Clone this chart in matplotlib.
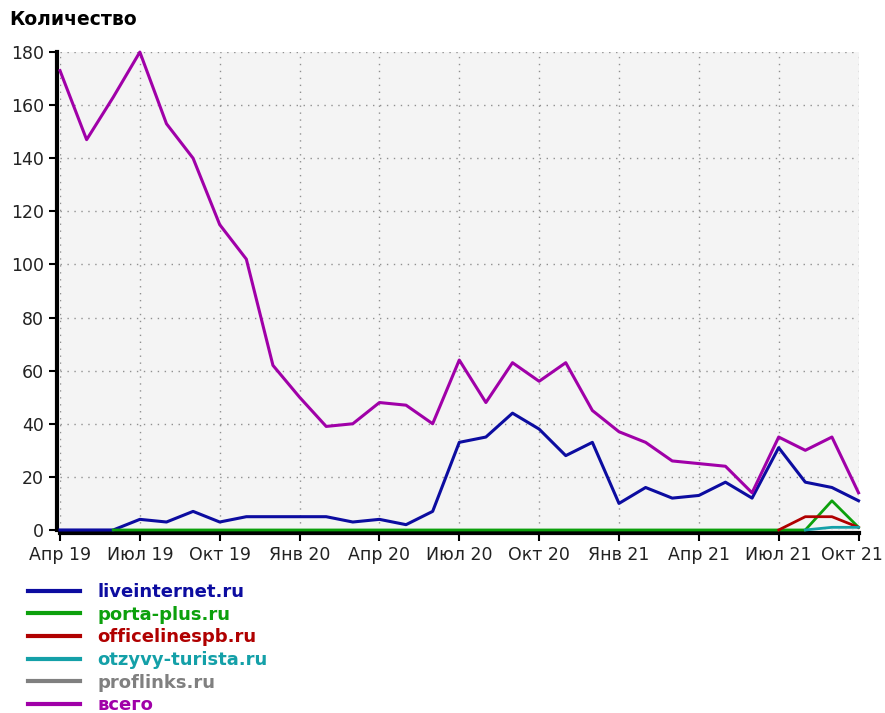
import numpy as np
import matplotlib
matplotlib.use("Agg")
import matplotlib.pyplot as plt
import matplotlib.transforms as mtransforms

nan = np.nan

months = ["Апр 19", "Май 19", "Июн 19", "Июл 19", "Авг 19", "Сен 19", "Окт 19", "Ноя 19",
          "Дек 19", "Янв 20", "Фев 20", "Мар 20", "Апр 20", "Май 20", "Июн 20", "Июл 20",
          "Авг 20", "Сен 20", "Окт 20", "Ноя 20", "Дек 20", "Янв 21", "Фев 21", "Мар 21",
          "Апр 21", "Май 21", "Июн 21", "Июл 21", "Авг 21", "Сен 21", "Окт 21"]

liveinternet = [0, 0, 0, 4, 3, 7, 3, 5, 5, 5, 5, 3, 4, 2, 7, 33,
                35, 44, 38, 28, 33, 10, 16, 12, 13, 18, 12, 31, 18, 16, 11]
porta_plus = [nan, nan] + [0] * 27 + [11, 1]
officelinespb = [nan] * 27 + [0, 5, 5, 1]
otzyvy_turista = [nan] * 28 + [0, 1, 1]
proflinks = [nan] * 31
total = [173, 147, 163, 180, 153, 140, 115, 102, 62, 50, 39, 40, 48, 47, 40, 64,
         48, 63, 56, 63, 45, 37, 33, 26, 25, 24, 14, 35, 30, 35, 14]

series = [
    ("liveinternet.ru", liveinternet, "#0c0ca0", 2.2),
    ("porta-plus.ru", porta_plus, "#0ca00c", 2.0),
    ("officelinespb.ru", officelinespb, "#b00000", 2.0),
    ("otzyvy-turista.ru", otzyvy_turista, "#14a0a8", 2.0),
    ("proflinks.ru", proflinks, "#808080", 2.0),
    ("всего", total, "#a000a8", 2.2),
]

plt.rcParams['font.family'] = ['DejaVu Sans']

fig = plt.figure(figsize=(8.85, 7.13), dpi=100)
ax = fig.add_axes([0.0678, 0.2567, 0.9023, 0.6703])
ax.set_facecolor("#f4f4f4")

x = np.arange(len(months))
for name, vals, color, lw in series:
    ax.plot(x, vals, color=color, lw=lw, label=name, zorder=3, clip_on=False)

ax.set_xlim(0, len(months) - 1)
ax.set_ylim(0, 180)
ax.set_yticks(range(0, 181, 20))
ax.set_xticks(x[::3])
ax.set_xticklabels(months[::3])
ax.tick_params(labelsize=12.5, length=6, width=1.5, colors="black", labelcolor="#222222")
ax.grid(True, color="#909090", linestyle=(0, (1, 4)), linewidth=1)
for s in ["top", "right"]:
    ax.spines[s].set_visible(False)
for s in ["left", "bottom"]:
    ax.spines[s].set_linewidth(3)
    ax.spines[s].set_position(("outward", 2))

# last month label shifted left so it stays inside the picture
last = ax.get_xticklabels()[-1]
last.set_transform(last.get_transform() + mtransforms.ScaledTranslation(-7 / 100, 0, fig.dpi_scale_trans))

fig.text(0.011, 0.972, "Количество", fontsize=13.5, fontweight="bold", va="center")

leg = fig.legend(loc="upper left", bbox_to_anchor=(0.013, 0.205), frameon=False,
                 handlelength=2.9, handletextpad=0.95, labelspacing=0.255,
                 prop={"size": 13, "weight": "bold"}, labelcolor="linecolor")
for line in leg.get_lines():
    line.set_linewidth(3)

fig.savefig("out.png", dpi=100)
